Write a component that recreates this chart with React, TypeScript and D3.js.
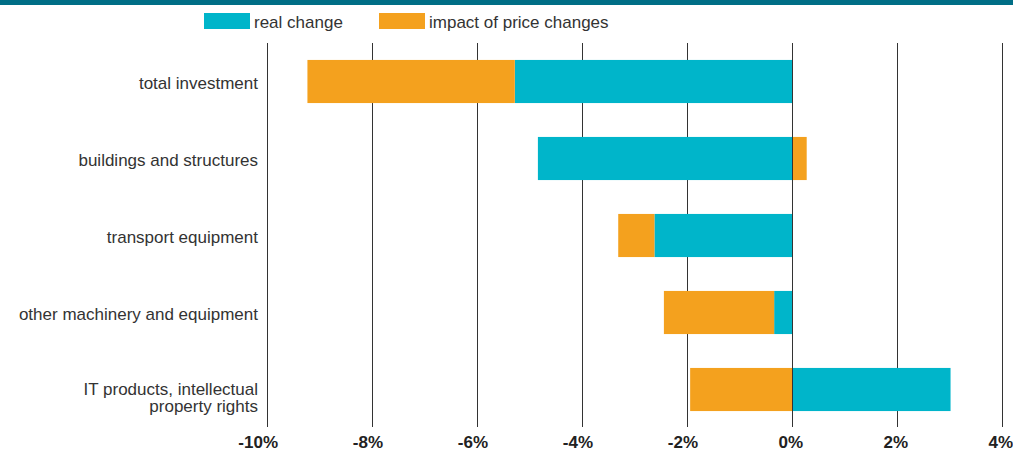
import React, { useRef, useEffect } from 'react';
import { select, scaleLinear, scaleBand, stack, stackOffsetDiverging } from 'd3';

const categories = [
  'total investment',
  'buildings and structures',
  'transport equipment',
  'other machinery and equipment',
  'IT products, intellectual\nproperty rights',
];
const realChange = [-5.28, -4.84, -2.62, -0.34, 3.02];
const priceImpact = [-3.95, 0.28, -0.69, -2.1, -1.94];
const seriesNames = ['real change', 'impact of price changes'];
const xTicks = [-10, -8, -6, -4, -2, 0, 2, 4];

const colors = ['#00b5ca', '#f4a11e'];

function App() {
  const svgRef = useRef<SVGSVGElement>(null);

  useEffect(() => {
    const width = 1013;
    const height = 451;
    const svg = select(svgRef.current);
    svg.selectAll('*').remove();

    const x = scaleLinear().domain([-10, 4]).range([267, 1002]);
    const y = scaleBand<string>()
      .domain(categories)
      .range([43, 428])
      .paddingInner(0.44)
      .paddingOuter(0.22);

    // top banner
    svg.append('rect').attr('x', 0).attr('y', 0).attr('width', width).attr('height', 5).attr('fill', '#006e86');

    // grid lines (behind bars)
    svg
      .append('g')
      .selectAll('line')
      .data(xTicks.filter((t) => t !== 0))
      .join('line')
      .attr('x1', (d) => x(d) + 0.5)
      .attr('x2', (d) => x(d) + 0.5)
      .attr('y1', 43)
      .attr('y2', 427)
      .attr('stroke', '#333')
      .attr('stroke-width', 1);

    const rows = categories.map((c, i) => ({ cat: c, real: realChange[i], price: priceImpact[i] }));
    const stacked = stack<any>().keys(['real', 'price']).offset(stackOffsetDiverging)(rows);

    svg
      .append('g')
      .selectAll('g')
      .data(stacked)
      .join('g')
      .attr('fill', (d, i) => colors[i])
      .selectAll('rect')
      .data((d) => d)
      .join('rect')
      .attr('x', (d) => x(Math.min(d[0], d[1])))
      .attr('width', (d) => Math.abs(x(d[1]) - x(d[0])))
      .attr('y', (d) => y(d.data.cat)!)
      .attr('height', y.bandwidth());

    // zero line on top
    svg
      .append('line')
      .attr('x1', x(0) + 0.5)
      .attr('x2', x(0) + 0.5)
      .attr('y1', 43)
      .attr('y2', 427)
      .attr('stroke', '#333')
      .attr('stroke-width', 1);

    // category labels; wrapped ones hang a little lower
    const labels = svg
      .append('g')
      .selectAll('text')
      .data(categories)
      .join('text')
      .attr('text-anchor', 'end')
      .attr('font-family', 'Liberation Sans, Arial, sans-serif')
      .attr('font-size', 17)
      .attr('fill', '#333')
      .attr('transform', (d) => `translate(258,${y(d)! + y.bandwidth() / 2 + (d.includes('\n') ? 5 : 7.5)})`);
    labels
      .selectAll('tspan')
      .data((d) => d.split('\n').map((t, i) => ({ t, i })))
      .join('tspan')
      .attr('x', 0)
      .attr('y', (d) => d.i * 17)
      .text((d) => d.t);

    // x axis labels
    svg
      .append('g')
      .selectAll('text')
      .data(xTicks)
      .join('text')
      .attr('x', (d) => x(d) + 11)
      .attr('y', 448)
      .attr('text-anchor', 'end')
      .attr('font-family', 'Liberation Sans, Arial, sans-serif')
      .attr('font-weight', 'bold')
      .attr('font-size', 17)
      .attr('fill', '#222')
      .text((d) => `${d}%`);

    // legend
    const legendX = [204, 379];
    const legend = svg
      .append('g')
      .selectAll('g')
      .data(seriesNames)
      .join('g')
      .attr('transform', (d, i) => `translate(${legendX[i]},13)`);
    legend
      .append('rect')
      .attr('width', 46)
      .attr('height', 16)
      .attr('fill', (d, i) => colors[i]);
    legend
      .append('text')
      .attr('x', 50)
      .attr('y', 15)
      .attr('font-family', 'Liberation Sans, Arial, sans-serif')
      .attr('font-size', 17)
      .attr('fill', '#333')
      .text((d) => d);

    svg.attr('width', width).attr('height', height);
  }, []);

  return (
    <svg
      ref={svgRef}
      width={1013}
      height={451}
      style={{ position: 'absolute', left: 0, top: 0, background: '#fff' }}
    />
  );
}

export default App;
